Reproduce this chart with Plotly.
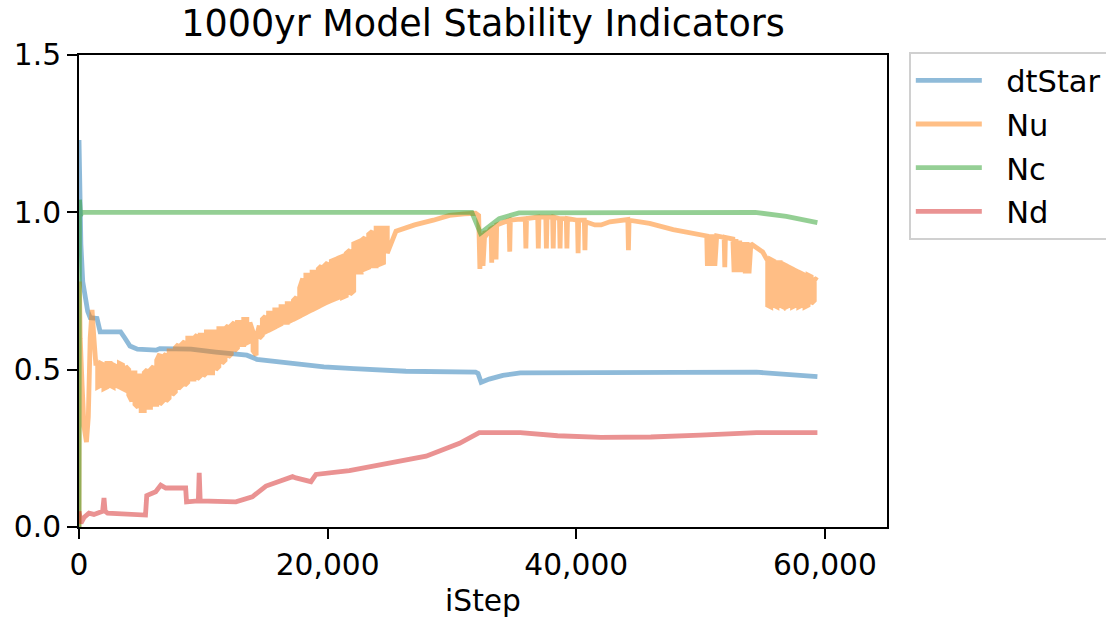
import plotly.graph_objects as go

# ---- data ----
dtstar_x = [0, 60, 150, 300, 500, 700, 900, 1450, 1700, 3350, 3700, 4100, 4700, 6200, 6500, 9000, 11000,
            13500, 14300, 16500, 19700, 22100, 26300, 31900, 32100, 32350, 33000, 34100, 35500, 54500,
            56500, 59400]
dtstar_y = [1.23, 1.05, 0.90, 0.78, 0.72, 0.685, 0.665, 0.663, 0.62, 0.62, 0.60, 0.575, 0.565, 0.562, 0.567,
            0.565, 0.556, 0.546, 0.533, 0.522, 0.509, 0.503, 0.495, 0.492, 0.488, 0.46, 0.47, 0.482, 0.49,
            0.492, 0.487, 0.478]

# Nu: start-up transient
nu_start_x = [0, 30, 100, 250, 400, 600, 750, 900, 1050, 1200, 1350]
nu_start_y = [0.0, 0.78, 0.60, 0.45, 0.32, 0.27, 0.35, 0.60, 0.69, 0.60, 0.52]

# Nu: oscillating band (upper / lower envelope) 1,500 - 24,800
nu_band1_x = [1500, 1750, 2000, 2250, 2500, 2750, 3000, 3250, 3500, 3750, 4000, 4250, 4500, 4750, 5000,
              5250, 5500, 5750, 6000, 6250, 6500, 6750, 7000, 7250, 7500, 7750, 8000, 8250, 8500, 8750,
              9000, 9250, 9500, 9750, 10000, 10250, 10500, 10750, 11000, 11250, 11500, 11750, 12000,
              12250, 12500, 12750, 13000, 13250, 13500, 13750, 14000, 14250, 14500, 14750, 15000, 15250,
              15500, 15750, 16000, 16250, 16500, 16750, 17000, 17250, 17500, 17750, 18000, 18250, 18500,
              18750, 19000, 19250, 19500, 19750, 20000, 20300, 20600, 20900, 21200, 21500, 21800, 22100,
              22400, 22700, 23000, 23300, 23600, 23900, 24200, 24500, 24800]
nu_band1_top = [0.52, 0.52, 0.515, 0.52, 0.52, 0.515, 0.51, 0.52, 0.515, 0.51, 0.50, 0.49, 0.49, 0.48, 0.48,
                0.49, 0.50, 0.50, 0.51, 0.53, 0.55, 0.54, 0.55, 0.56, 0.56, 0.57, 0.58, 0.58, 0.59, 0.60,
                0.60, 0.60, 0.61, 0.61, 0.61, 0.62, 0.62, 0.62, 0.62, 0.63, 0.63, 0.63, 0.64,
                0.64, 0.65, 0.65, 0.65, 0.66, 0.66, 0.65, 0.62, 0.60, 0.64, 0.66, 0.67, 0.68,
                0.68, 0.69, 0.69, 0.70, 0.70, 0.71, 0.71, 0.72, 0.73, 0.76, 0.79, 0.80, 0.80,
                0.81, 0.81, 0.82, 0.83, 0.83, 0.84, 0.845, 0.85, 0.855, 0.86, 0.87, 0.88, 0.90,
                0.905, 0.91, 0.92, 0.93, 0.94, 0.95, 0.95, 0.95, 0.95]
nu_band1_bot = [0.445, 0.45, 0.44, 0.445, 0.45, 0.445, 0.45, 0.445, 0.44, 0.435, 0.42, 0.40, 0.39, 0.38, 0.37,
                0.37, 0.38, 0.38, 0.39, 0.39, 0.39, 0.40, 0.40, 0.41, 0.42, 0.43, 0.44, 0.45, 0.45, 0.46,
                0.47, 0.47, 0.47, 0.48, 0.48, 0.49, 0.49, 0.49, 0.50, 0.51, 0.52, 0.53, 0.54,
                0.55, 0.56, 0.57, 0.58, 0.58, 0.585, 0.59, 0.56, 0.546, 0.60, 0.61, 0.62, 0.625,
                0.63, 0.635, 0.64, 0.645, 0.65, 0.65, 0.655, 0.66, 0.665, 0.67, 0.675, 0.68, 0.685,
                0.69, 0.695, 0.70, 0.705, 0.71, 0.715, 0.72, 0.725, 0.73, 0.73, 0.735, 0.74, 0.75,
                0.81, 0.81, 0.82, 0.825, 0.83, 0.83, 0.835, 0.84, 0.87]

# Nu: smoother stretch, dip and spiky plateau 25,500 - 55,300
nu_mid_x = [25500, 27000, 28500, 29800, 31000, 31900,
            32150, 32250, 32350, 32500, 32650, 32800, 33150, 33200, 33250, 33500, 33550, 33600, 34600, 34650,
            34700, 35900, 35950, 36000, 36900, 36950, 37000, 37550, 37600, 37650, 38100, 38150, 38200, 38650,
            38700, 38750, 39200, 39250, 39300, 40100, 40150, 40200, 40650, 40700, 40750, 41500, 42000, 42700,
            44150, 44200, 44250, 45900, 47800, 49500, 50500, 50550, 50700, 50850, 51000, 51150, 51300, 51900,
            51950, 52000, 52600, 52700, 52850, 53000, 53150, 53300, 53450, 53600, 53750, 53900, 54050, 54600,
            55000, 55300]
nu_mid_y = [0.94, 0.96, 0.975, 0.99, 0.995, 0.997,
            0.99, 0.82, 0.935, 0.83, 0.94, 0.93, 0.95, 0.84, 0.95, 0.955, 0.85, 0.96, 0.975, 0.875,
            0.975, 0.98, 0.885, 0.98, 0.985, 0.885, 0.985, 0.985, 0.885, 0.985, 0.985, 0.885, 0.985, 0.98,
            0.885, 0.98, 0.98, 0.885, 0.98, 0.975, 0.87, 0.975, 0.975, 0.88, 0.97, 0.96, 0.96, 0.97,
            0.977, 0.88, 0.975, 0.965, 0.945, 0.93, 0.925, 0.83, 0.93, 0.83, 0.93, 0.83, 0.925, 0.92,
            0.826, 0.92, 0.915, 0.81, 0.915, 0.81, 0.91, 0.81, 0.905, 0.806, 0.905, 0.806, 0.90, 0.885,
            0.874, 0.853]

# Nu: final oscillating band 55,400 - 59,400
nu_band2_x = [55400, 55650, 55900, 56150, 56400, 56650, 56900, 57150, 57400, 57650, 57900, 58150, 58400,
              58650, 58900, 59150]
nu_band2_top = [0.853, 0.85, 0.845, 0.84, 0.84, 0.835, 0.83, 0.825, 0.82, 0.815, 0.81, 0.805, 0.80, 0.80,
                0.795, 0.79]
nu_band2_bot = [0.705, 0.70, 0.705, 0.70, 0.705, 0.70, 0.70, 0.705, 0.70, 0.705, 0.70, 0.705, 0.70, 0.705,
                0.71, 0.72]
nu_end_x = [59400]
nu_end_y = [0.784]

nc_x = [0, 40, 120, 250, 31600, 32300, 33800, 35400, 54400, 56900, 59400]
nc_y = [0.0, 1.04, 0.99, 1.0, 1.0, 0.934, 0.98, 0.998, 1.0, 0.987, 0.967]

nd_x = [0, 160, 400, 800, 1200, 1750, 1900, 2010, 2100, 2300, 3000, 5350, 5450, 6170, 6580, 6980, 8580,
        8650, 9600, 9670, 9750, 12620, 13940, 15040, 17180, 17450, 18660, 19060, 21750, 25230, 27920,
        30610, 32200, 35500, 38500, 42000, 46000, 50000, 54500, 59400]
nd_y = [0.05, 0.012, 0.03, 0.044, 0.04, 0.049, 0.05, 0.092, 0.05, 0.044, 0.042, 0.038, 0.10, 0.112, 0.133,
        0.124, 0.124, 0.08, 0.083, 0.172, 0.083, 0.08, 0.096, 0.13, 0.16, 0.156, 0.144, 0.167, 0.179,
        0.207, 0.225, 0.266, 0.30, 0.30, 0.29, 0.285, 0.286, 0.292, 0.30, 0.30]


def band_path(xs, tops, bots):
    """Trace an oscillating band: at each read x go top->bottom or bottom->top."""
    px, py = [], []
    for i, (x, t, b) in enumerate(zip(xs, tops, bots)):
        pair = (t, b) if i % 2 == 0 else (b, t)
        px += [x, x]
        py += list(pair)
    return px, py


b1x, b1y = band_path(nu_band1_x, nu_band1_top, nu_band1_bot)
b2x, b2y = band_path(nu_band2_x, nu_band2_top, nu_band2_bot)
nu_x = nu_start_x + b1x + nu_mid_x + b2x + nu_end_x
nu_y = nu_start_y + b1y + nu_mid_y + b2y + nu_end_y

NBSP = "\u00a0"
series = [
    ("dtStar", dtstar_x, dtstar_y, "#1f77b4"),
    ("Nu", nu_x, nu_y, "#ff7f0e"),
    ("Nc", nc_x, nc_y, "#2ca02c"),
    ("Nd", nd_x, nd_y, "#d62728"),
]

FONT = "DejaVu Sans"
TICK = 29.7
fig = go.Figure()
for name, xs, ys, col in series:
    fig.add_trace(go.Scatter(x=xs, y=ys, mode="lines", name=NBSP * 2 + name,
                             line=dict(color=col, width=4.8), opacity=0.5,
                             legendgroup=name))

axis_common = dict(showline=True, linecolor="black", linewidth=2, mirror=True,
                   ticks="outside", ticklen=10, tickwidth=2, tickcolor="black",
                   showgrid=False, zeroline=False,
                   tickfont=dict(family=FONT, size=TICK, color="black"))

fig.update_layout(
    width=1106, height=620,
    margin=dict(l=79, r=219, t=55, b=93, autoexpand=False),
    paper_bgcolor="white", plot_bgcolor="white",
    font=dict(family=FONT, size=TICK, color="black"),
    title=dict(text="1000yr Model Stability Indicators", x=0.5, xref="paper",
               y=1 - 23 / 620, yref="container", yanchor="middle",
               font=dict(family=FONT, size=36.5, color="black")),
    xaxis=dict(range=[0, 65000], tickvals=[0, 20000, 40000, 60000], tickformat=",d",
               title=dict(text="iStep", font=dict(family=FONT, size=TICK), standoff=10),
               **axis_common),
    yaxis=dict(range=[0, 1.5], tickvals=[0, 0.5, 1.0, 1.5], tickformat=".1f",
               **axis_common),
    legend=dict(x=1.027, y=1.0 + 3 / 472, xanchor="left", yanchor="top",
                bgcolor="white", bordercolor="#d0d0d0", borderwidth=2,
                font=dict(family=FONT, size=30.5, color="black"),
                tracegroupgap=1, itemwidth=66),
    showlegend=True,
)

fig.write_html("out.html")
